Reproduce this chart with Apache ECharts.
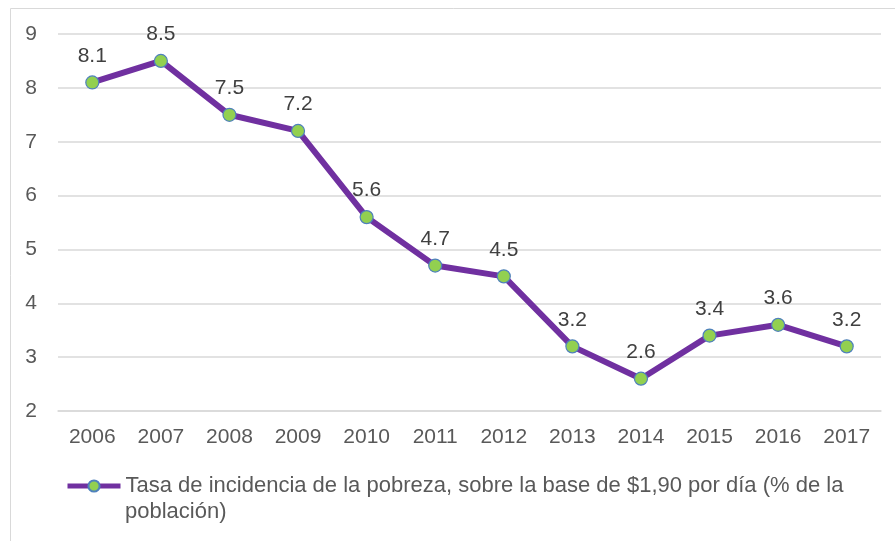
<!DOCTYPE html>
<html><head><meta charset="utf-8">
<script src="https://cdn.jsdelivr.net/npm/echarts@6/dist/echarts.min.js"></script>
<style>html,body{margin:0;padding:0;background:#fff}#c{width:895px;height:541px}</style>
</head><body><div id="c"></div>
<script>
const categories = ['2006','2007','2008','2009','2010','2011','2012','2013','2014','2015','2016','2017'];
const values = [8.1, 8.5, 7.5, 7.2, 5.6, 4.7, 4.5, 3.2, 2.6, 3.4, 3.6, 3.2];
const seriesName = 'Tasa de incidencia de la pobreza, sobre la base de $1,90 por día (% de la';
const seriesNameLine2 = 'población)';
const yMin = 2, yMax = 9, yStep = 1;

const chart = echarts.init(document.getElementById('c'), null, {renderer:'canvas'});
chart.setOption({
  animation: false,
  textStyle: {fontFamily: 'Liberation Sans, Arial, sans-serif'},
  graphic: [
    {type:'rect', shape:{x:10.5,y:8.5,width:900,height:540}, style:{fill:'none', stroke:'#d9d9d9', lineWidth:1}, silent:true},
    {type:'text', left:125, top:501, style:{text: seriesNameLine2, fill:'#595959', font:'22px "Liberation Sans", Arial, sans-serif'}}
  ],
  grid: {left: 58, right: 14, top: 34, bottom: 130},
  xAxis: {type:'category', data: categories, boundaryGap: true,
    axisLine:{show:true, lineStyle:{color:'#d9d9d9', width:1.5}}, axisTick:{show:false},
    axisLabel:{color:'#595959', fontSize:21, margin:16}},
  yAxis: {type:'value', min:yMin, max:yMax, interval:yStep,
    axisLine:{show:false}, axisTick:{show:false},
    splitLine:{lineStyle:{color:'#d9d9d9', width:1.5}},
    axisLabel:{color:'#595959', fontSize:21, margin:21}},
  legend: {left: 60, top: 470, itemWidth: 53, itemHeight: 14, itemGap: 0,
    lineStyle:{width:5, color:'#7030A0'},
    textStyle:{color:'#595959', fontSize:22},
    data:[{name: seriesName}]},
  series: [{type:'line', name: seriesName, data: values,
    lineStyle:{color:'#7030A0', width:6}, itemStyle:{color:'#92D050', borderColor:'#4F81BD', borderWidth:1.2},
    symbol:'circle', symbolSize:13,
    label:{show:true, position:'top', distance:9, color:'#404040', fontSize:21}}]
});
</script></body></html>
